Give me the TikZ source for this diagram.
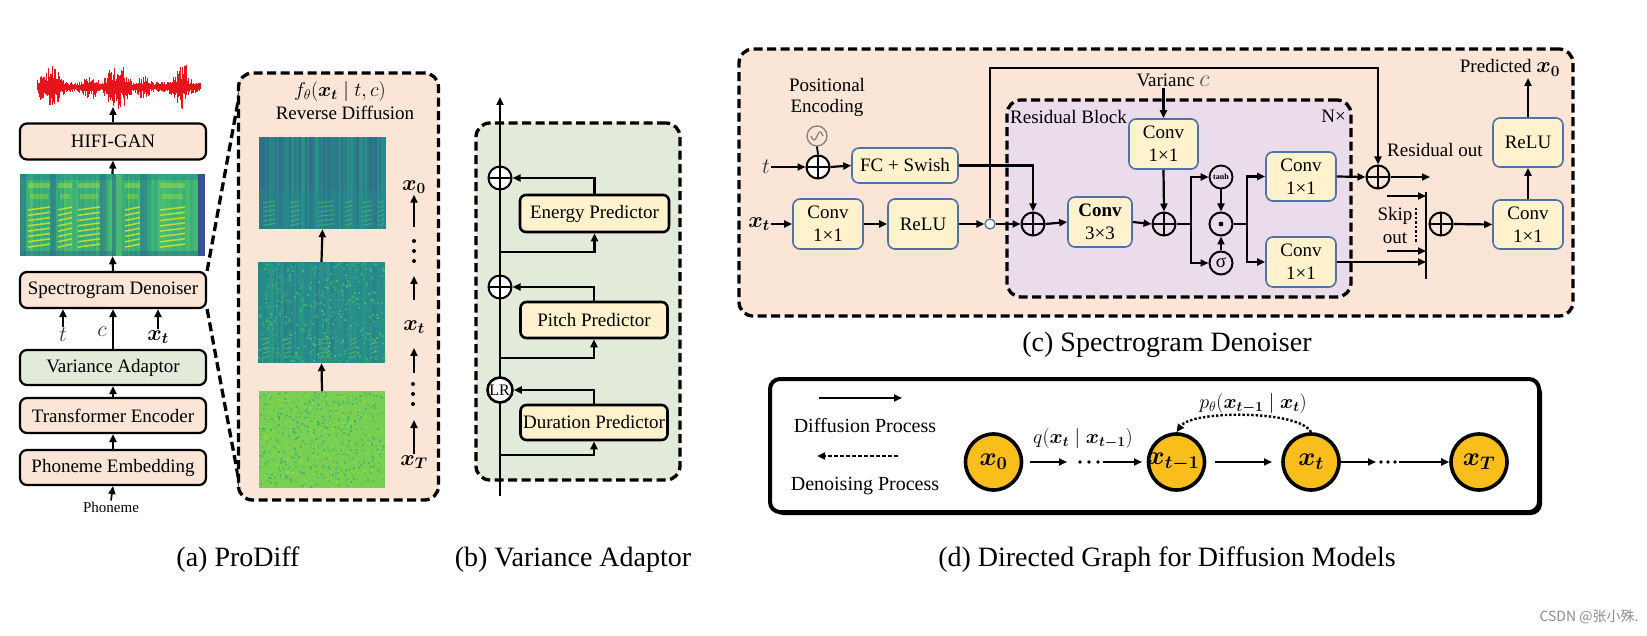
\RequirePackage{fix-cm}
\documentclass[tikz,border=0pt]{standalone}
\usepackage{amsmath}
\usepackage{bm}
\usepackage[no-math]{fontspec}
\setmainfont{Liberation Serif}
\newfontfamily\cjkfont{Noto Sans CJK SC}
\usetikzlibrary{arrows.meta,calc}
\newcommand\FS[2]{\fontsize{#1pt}{#2pt}\selectfont}
\definecolor{peach}{HTML}{FBE5D6}
\definecolor{lgreen}{HTML}{E2EBD9}
\definecolor{lyellow}{HTML}{FFF2CC}
\definecolor{lav}{HTML}{EADCEB}
\definecolor{cblue}{HTML}{4F71A8}
\definecolor{norange}{HTML}{F9BD1C}
\definecolor{wavered}{HTML}{E8141C}
\definecolor{vA}{HTML}{3B518B}
\definecolor{vB}{HTML}{2C728E}
\definecolor{vC}{HTML}{21908D}
\definecolor{vD}{HTML}{27AD81}
\definecolor{vE}{HTML}{5DC863}
\definecolor{vF}{HTML}{AADC32}
\definecolor{vG}{HTML}{FDE725}
\tikzset{
 arr/.style={line width=2.2pt,-{Triangle[length=8pt,width=7pt]}},
 ln/.style={line width=2.2pt},
 boxa/.style={draw,line width=2.2pt,rounded corners=7pt,fill=peach,minimum width=186pt,minimum height=36pt,inner sep=0pt,font=\FS{19}{22}},
 boxb/.style={draw,line width=2.6pt,rounded corners=6pt,fill=lyellow,minimum width=147pt,minimum height=36pt,inner sep=0pt,font=\FS{19}{22}},
 boxc/.style={draw=cblue,line width=1.6pt,rounded corners=7pt,fill=lyellow,minimum width=70pt,minimum height=50pt,inner sep=0pt,align=center,font=\FS{19}{23}},
 dbox/.style={draw,line width=3.3pt,dash pattern=on 9pt off 4.5pt,rounded corners=14pt,inner sep=0pt},
 opl/.style={circle,draw,line width=2pt,minimum size=23pt,inner sep=0pt,path picture={\draw[line width=2pt] (path picture bounding box.north)--(path picture bounding box.south) (path picture bounding box.west)--(path picture bounding box.east);}},
 gnode/.style={circle,draw,line width=3.6pt,fill=norange,minimum size=56pt,inner sep=0pt,font=\FS{26}{26}},
 lbl/.style={inner sep=1pt},
 captxt/.style={font=\FS{28}{28}},
 vdot/.style={circle,fill,inner sep=0pt,minimum size=4pt},
}
\begin{document}
\begin{tikzpicture}[x=1pt,y=-1pt]
\useasboundingbox (0,0) rectangle (1647,636);
\fill[white] (0,0) rectangle (1647,636);

% ================= (a) =================
\pgfmathsetseed{7}
\draw[wavered,line width=2pt] (37,87)--(200,87);
\foreach \i in {0,...,163}{
 \pgfmathsetmacro\env{3+21*abs(sin(\i*5.5+10))*abs(cos(\i*2.3))*(\i<150?1:0.3)}
 \pgfmathsetmacro\aa{1+(0.2+0.8*rnd)*\env}
 \pgfmathsetmacro\bb{1+(0.2+0.8*rnd)*\env}
 \draw[wavered,line width=1pt] (37+\i,87-\aa) -- (37+\i,87+\bb);
}
\coordinate (wavebot) at (113,107);
\node[boxa] (hifi) at (113,141.5) {HIFI-GAN};
\node[minimum width=185pt,minimum height=82pt,inner sep=0pt] (specA) at (112.5,215) {};
\begin{scope}
\clip (20,174) rectangle (205,256);
\fill[vD!60!vE] (20,174) rectangle (205,256);
\foreach \i in {0,...,92}{
 \pgfmathsetmacro\mm{int(rnd*100)}
 \fill[fill=vC!\mm!vE,opacity=0.5] (20+\i*2,174) rectangle ++(2,82);
}
\fill[vC,opacity=0.5] (20,174) rectangle (205,180);
\fill[vB,opacity=0.6] (20,174) rectangle (26,256);
\fill[vB,opacity=0.5] (20,251) rectangle (205,256);
\foreach \a/\b in {50/56,100/106,112/116,140/147}{
 \fill[vB,opacity=0.6] (\a,174) rectangle (\b,256);
}
\fill[vE!70!vC] (116,174) rectangle (122,256);
\foreach \a/\b in {28/50,58/72,78/100,125/140,160/185}{
 \fill[vF,opacity=0.5] (\a,183) rectangle (\b,188);
 \fill[vF,opacity=0.4] (\a+2,194) rectangle (\b-2,199);
 \foreach \k in {0,...,7}{
  \draw[vF!55!vG,line width=1.5pt,opacity=0.9] (\a,210+\k*5.3) -- (\b,207+\k*5.3);
 }
}
\fill[vA] (198,174) rectangle (205,256);
\end{scope}
\node[boxa] (sd) at (113,290) {Spectrogram Denoiser};
\node[boxa,fill=lgreen,minimum height=35pt] (va) at (113,367.5) {Variance Adaptor};
\node[boxa,minimum height=35pt] (te) at (113,415.5) {Transformer Encoder};
\node[boxa,minimum height=35pt] (pe) at (113,467.5) {Phoneme Embedding};
\node[lbl,font=\FS{15}{15}] (phon) at (111,507) {Phoneme};
\draw[arr,line width=1.6pt] (phon.north) -- (pe.south);
\draw[arr] (pe.north) -- (te.south);
\draw[arr] (te.north) -- (va.south);
\draw[arr] (va.north) -- (sd.south);
\draw[arr] (sd.north) -- (specA.south);
\draw[arr] (specA.north) -- (hifi.south);
\draw[arr] (hifi.north) -- (wavebot);
\node[lbl,font=\FS{22}{22},text=black!80] (tlab) at (63,335) {$t$};
\node[lbl,font=\FS{22}{22},text=black!80] (clab) at (102,332) {$c$};
\node[lbl,font=\FS{22}{22}] (xtlab) at (158,337) {$\bm{x}_{\bm{t}}$};
\draw[arr] (tlab.north) -- (tlab.north |- sd.south);
\draw[arr] (xtlab.north) -- (xtlab.north |- sd.south);

% zoom box
\draw[line width=3.3pt,dash pattern=on 9pt off 4.5pt] (sd.north east) -- (242,80);
\draw[line width=3.3pt,dash pattern=on 9pt off 4.5pt] (sd.south east) -- (241,492);
\node[dbox,fill=peach,minimum width=200pt,minimum height=427pt] (zoomA) at (338.5,286.5) {};
\node[lbl,font=\FS{20}{20}] (flab) at (340,92) {$f_\theta(\bm{x}_{\bm{t}}\mid t,c)$};
\node[lbl,font=\FS{19}{19}] (rev) at (345,113) {Reverse Diffusion};
\node[minimum width=127pt,minimum height=92pt,inner sep=0pt] (s0) at (322.5,183) {};
\node[minimum width=127pt,minimum height=101pt,inner sep=0pt] (s1) at (321.5,312.5) {};
\node[minimum width=126pt,minimum height=97pt,inner sep=0pt] (s2) at (322,439.5) {};
\begin{scope}
\clip (259,137) rectangle (386,229);
\fill[vB!60!vC] (259,137) rectangle (386,229);
\foreach \i in {0,...,63}{
 \pgfmathsetmacro\mm{int(rnd*100)}
 \fill[fill=vD!\mm!vA,opacity=0.5] (259+\i*2,137) rectangle ++(2,92);
}
\fill[vC,opacity=0.35] (259,190) rectangle (386,229);
\foreach \a/\b in {263/275,290/300,318/334,345/352,362/372,378/384}{
 \foreach \k in {0,...,5}{
  \draw[vE,opacity=0.5,line width=1.1pt] (\a,203+\k*4.5) -- (\b,201+\k*4.5);
 }
}
\end{scope}
\begin{scope}
\clip (258,262) rectangle (385,363);
\fill[vC!75!vB] (258,262) rectangle (385,363);
\foreach \i in {0,...,63}{
 \pgfmathsetmacro\mm{int(rnd*100)}
 \fill[fill=vB!\mm!vD,opacity=0.45] (258+\i*2,262) rectangle ++(2,101);
}
\foreach \k in {1,...,650}{
 \pgfmathsetmacro\xx{258+rnd*125}
 \pgfmathsetmacro\yy{262+rnd*99}
 \pgfmathsetmacro\mm{int(rnd*100)}
 \fill[fill=vB!\mm!vE,opacity=0.7] (\xx,\yy) rectangle ++(2,2);
}
\foreach \a/\b in {262/270,283/292,318/330,350/356,370/378}{
 \foreach \k in {0,...,4}{
  \draw[vE!60!vF,opacity=0.45,line width=1pt] (\a,340+\k*4.5) -- (\b,338+\k*4.5);
 }
}
\end{scope}
\begin{scope}
\clip (259,391) rectangle (385,488);
\fill[vE!65!vF] (259,391) rectangle (385,488);
\foreach \k in {1,...,900}{
 \pgfmathsetmacro\xx{259+rnd*124}
 \pgfmathsetmacro\yy{391+rnd*95}
 \pgfmathsetmacro\mm{int(rnd*100)}
 \fill[fill=vF!\mm!vD,opacity=0.7] (\xx,\yy) rectangle ++(2,2);
}
\end{scope}
\draw[arr] (s2.north) -- (s1.south);
\draw[arr] (s1.north) -- (s0.south);
\node[lbl,font=\FS{22}{22}] (r0) at (414,187) {$\bm{x}_{\bm{0}}$};
\node[lbl,font=\FS{22}{22}] (rt) at (414,327) {$\bm{x}_{\bm{t}}$};
\node[lbl,font=\FS{22}{22}] (rT) at (414,462) {$\bm{x}_{\bm{T}}$};
\foreach \yy in {241,251,261}{ \node[vdot] at (414,\yy) {}; }
\foreach \yy in {384,394,404}{ \node[vdot] at (413,\yy) {}; }
\draw[arr] (414,227) -- (r0.south);
\draw[arr] (414,300) -- (414,276);
\draw[arr] (414,373) -- (414,348);
\draw[arr] (rT.north) -- (414,420);

% ================= (b) =================
\node[dbox,fill=lgreen,minimum width=204pt,minimum height=357pt] (vbox) at (578,301.5) {};
\coordinate (bbot) at (500,496);
\coordinate (btop) at (500,97);
\draw[arr] (bbot) -- (btop);
\node[opl,fill=white] (p1) at (500,178) {};
\node[opl,fill=white] (p2) at (500,287) {};
\node[circle,draw,line width=2.6pt,fill=white,minimum size=25pt,inner sep=0pt,font=\FS{16}{16}] (lr) at (500,390) {\hspace*{-1pt}LR};
\node[boxb,minimum width=149pt,minimum height=37pt] (en) at (594.5,213.5) {Energy Predictor};
\node[boxb] (pi) at (594,320) {Pitch Predictor};
\node[boxb,minimum height=35pt] (du) at (594,422.5) {Duration Predictor};
\coordinate (b1) at (500,252);
\coordinate (b2) at (500,358);
\coordinate (b3) at (500,455);
\draw[arr] (en.north) |- (p1.east);
\draw[arr] (pi.north) |- (p2.east);
\draw[arr] (du.north) |- (lr.east);
\draw[arr] (b1) -| (en.south);
\draw[arr] (b2) -| (pi.south);
\draw[arr] (b3) -| (du.south);

% ================= (c) =================
\node[dbox,fill=peach,minimum width=834pt,minimum height=267pt] (cbox) at (1156,182.5) {};
\node[dbox,fill=lav,minimum width=344pt,minimum height=197pt] (rbox) at (1179,198.5) {};
\node[anchor=west,lbl,font=\FS{19}{19}] (rbl) at (1009,117) {Residual Block};
\node[anchor=east,lbl,font=\FS{19}{19}] (nx) at (1347,116) {N×};
\node[align=center,lbl,font=\FS{19}{21}] (pos) at (827,97.5) {Positional\\Encoding};
\node[circle,draw=gray,line width=1.3pt,minimum size=20pt,inner sep=0pt] (sn) at (817,136) {};
\draw[gray,line width=1.2pt] plot[domain=-1:1,samples=25] ({817+6*\x},{136-4*sin(180*\x)});
\node[opl,fill=white] (pt) at (818,167) {};
\draw[line width=1.8pt] (sn.south) -- (pt.north);
\node[lbl,font=\FS{22}{22},text=black!80] (tc) at (766,167) {$t$};
\node[boxc,minimum width=106pt,minimum height=35pt] (fc) at (905,165.5) {FC + Swish};
\draw[arr] (tc.east) -- (pt.west);
\draw[arr] (pt.east) -- (fc.west);
\node[lbl,font=\FS{22}{22}] (xtc) at (759,224) {$\bm{x}_{\bm{t}}$};
\node[boxc] (c1) at (828,224) {Conv\\1×1};
\node[boxc] (r1) at (923,224) {ReLU};
\node[circle,draw=cblue,fill=white,line width=1.3pt,minimum size=10pt,inner sep=0pt] (sc) at (990,224) {};
\node[opl] (a1) at (1033,224) {};
\node[boxc,minimum width=64pt] (c3) at (1100,222) {\textbf{Conv}\\3×3};
\node[opl] (a2) at (1164,224) {};
\node[boxc,minimum width=69pt] (cv) at (1163.5,144) {Conv\\1×1};
\node[lbl,font=\FS{19}{19}] (varl) at (1173,80) {Varianc \textcolor{black!65}{\FS{24}{24}$c$}};
\node[circle,draw,line width=1.8pt,minimum size=23pt,inner sep=0pt,font=\FS{8}{8}\bfseries] (th) at (1221,177) {tanh};
\node[circle,draw,line width=2pt,minimum size=23pt,inner sep=0pt] (od) at (1221,224) {};
\fill (od.center) circle (2.4);
\node[circle,draw,line width=2pt,minimum size=23pt,inner sep=0pt,font=\FS{19}{19}] (sg) at (1221,263) {σ};
\node[boxc,minimum height=49pt] (ct) at (1301,176.5) {Conv\\1×1};
\node[boxc] (cb) at (1301,262) {Conv\\1×1};
\node[opl] (ar) at (1378,177) {};
\coordinate (tr) at (1378,68);
\coordinate (resout) at (1430,177);
\node[anchor=west,lbl,font=\FS{19}{19}] (rol) at (1386,150) {Residual out};
\coordinate (bartop) at (1426,192);
\coordinate (barbot) at (1426,279);
\node[opl] (as) at (1441,224) {};
\node[boxc,minimum height=49pt] (cf) at (1528,224.5) {Conv\\1×1};
\node[boxc,minimum height=49pt] (rf) at (1528,142.5) {ReLU};
\coordinate (pred) at (1528,78);
\node[lbl,font=\FS{19}{19}] (predl) at (1510,68) {Predicted \FS{22}{22}$\bm{x}_{\bm{0}}$};
\node[align=center,lbl,font=\FS{19}{23}] (skl) at (1395,226) {Skip\\out};
\coordinate (sk1) at (1387,196);
\coordinate (sk2) at (1387,251);
\coordinate (sp1) at (1191,224);
\coordinate (sp2) at (1247,224);
\draw[arr] (fc.east) -| (a1.north);
\draw[arr] (xtc.east) -- (c1.west);
\draw[arr] (c1.east) -- (r1.west);
\draw[arr] (r1.east) -- (sc.west);
\draw[arr] (sc.east) -- (a1.west);
\draw[arr] (sc.north) |- (tr) -- (ar.north);
\draw[arr] (a1.east) -- (c3.west);
\draw[arr] (c3.east) -- (a2.west);
\draw[arr] (cv.north |- varl.south) -- (cv.north);
\draw[arr] (cv.south) -- (a2.north);
\draw[ln] (a2.east) -- (sp1);
\draw[arr] (sp1) |- (th.west);
\draw[arr] (sp1) |- (sg.west);
\draw[arr] (th.south) -- (od.north);
\draw[arr] (sg.north) -- (od.south);
\draw[ln] (od.east) -- (sp2);
\draw[arr] (sp2) |- (ct.west);
\draw[arr] (sp2) |- (cb.west);
\draw[arr] (ct.east) -- (ar.west);
\draw[arr] (ar.east) -- (resout);
\draw[line width=2.5pt] (bartop) -- (barbot);
\draw[arr] (sk1) -- (sk1 -| bartop);
\draw[arr] (sk2) -- (sk2 -| bartop);
\draw[arr] (cb.east) -- (cb.east -| bartop);
\draw[line width=2.5pt,dotted] (1416,208) -- (1416,244);
\draw[arr] (as.east) -- (cf.west);
\draw[arr] (cf.north) -- (rf.south);
\draw[arr] (rf.north) -- (pred);
\node[captxt] (capc) at (1167,345) {(c) Spectrogram Denoiser};

% ================= (d) =================
\fill[black,rounded corners=11pt] (772,382) rectangle (1542,515);
\node[draw,fill=white,line width=4pt,rounded corners=10pt,minimum width=769pt,minimum height=133pt,inner sep=0pt] (dbx) at (1154.5,445.5) {};
\coordinate (la1) at (819,398);
\coordinate (la2) at (902,398);
\draw[arr] (la1) -- (la2);
\node[lbl,font=\FS{20}{20}] (ldif) at (865,426) {Diffusion Process};
\coordinate (lb1) at (898,456);
\coordinate (lb2) at (817,456);
\draw[line width=2.2pt,dash pattern=on 4pt off 2pt,-{Triangle[length=8pt,width=7pt]}] (lb1) -- (lb2);
\node[lbl,font=\FS{20}{20}] (lden) at (865,486) {Denoising Process};
\node[gnode] (n0) at (993.5,462) {$\bm{x}_{\bm{0}}$};
\node[gnode] (n1) at (1176.5,462) {\hspace*{-6pt}$\bm{x}_{\bm{t-1}}$};
\node[gnode] (n2) at (1311,462) {$\bm{x}_{\bm{t}}$};
\node[gnode] (n3) at (1479,462) {$\bm{x}_{\bm{T}}$};
\foreach \xx in {1080,1089,1098}{ \node[vdot,minimum size=3.6pt] at (\xx,462) {}; }
\foreach \xx in {1381,1388,1395}{ \node[vdot,minimum size=3.6pt] at (\xx,462) {}; }
\draw[arr,shorten <=7pt] (n0.east) -- (1067,462);
\draw[arr] (1103,462) -- (1142,462);
\draw[arr] (1215,462) -- (1272,462);
\draw[arr] (n2.east) -- (1376,462);
\draw[arr] (1399,462) -- (n3.west);
\node[lbl,font=\FS{20}{20}] (ql) at (1083,438) {$q(\bm{x}_{\bm{t}}\mid\bm{x}_{\bm{t-1}})$};
\node[lbl,font=\FS{20}{20}] (pl) at (1253,403) {$p_\theta(\bm{x}_{\bm{t-1}}\mid\bm{x}_{\bm{t}})$};
\draw[line width=2.4pt,dotted,-{Triangle[length=8pt,width=7pt]}] (n2.north) .. controls (1300,410) and (1192,410) .. (n1.north);

% captions
\node[captxt] (capa) at (238,560) {(a) ProDiff};
\node[captxt] (capb) at (573,560) {(b) Variance Adaptor};
\node[captxt] (capd) at (1167,560) {(d) Directed Graph for Diffusion Models};
\node[anchor=east,text=black!45,font=\cjkfont\FS{14}{14}] (wm) at (1642,617) {CSDN @张小殊.};
\end{tikzpicture}
\end{document}
